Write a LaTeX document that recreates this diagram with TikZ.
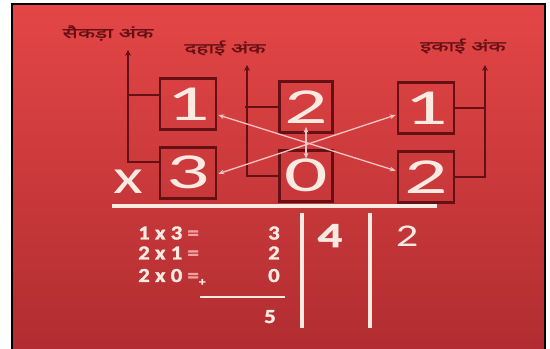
\documentclass[tikz,border=0pt]{standalone}
\usepackage{fontspec}
\newfontfamily\bigdigits[FakeStretch=1.7]{Carlito}
\newfontfamily\eqfont[FakeStretch=1.4, BoldFont={Carlito Bold}, BoldFeatures={FakeBold=1.5}]{Carlito}
\newfontfamily\workfont[FakeStretch=1.15, BoldFont={Carlito Bold}, BoldFeatures={FakeBold=1.5}]{Carlito}
\newfontfamily\hindifont[Script=Devanagari, FakeStretch=1.6, FakeBold=1.5]{Noto Sans}
\definecolor{redtop}{RGB}{228, 70, 70}
\definecolor{redbot}{RGB}{176, 44, 48}
\definecolor{maroon}{RGB}{100, 16, 20}
\definecolor{chalk}{RGB}{250, 234, 226}
\definecolor{eqpink}{RGB}{240, 160, 160}
\definecolor{linkpink}{RGB}{246, 196, 196}
\usepackage{tikz}
\usetikzlibrary{arrows.meta, positioning, calc}

\begin{document}
\begin{tikzpicture}[x=0.03cm, y=-0.03cm,
    digitbox/.style={draw=maroon, line width=2.3pt, minimum width=1.68cm, minimum height=1.53cm, inner sep=0pt, text=chalk, font=\bigdigits\fontsize{43}{43}\selectfont},
    digitlabel/.style={text=maroon, inner sep=0pt, font=\hindifont\fontsize{12}{12}\selectfont},
    bracket/.style={draw=maroon, line width=1.8pt},
    tip/.style={{Stealth[length=5pt, width=5pt]}-},
    link/.style={{Stealth[length=5pt, width=4pt]}-{Stealth[length=5pt, width=4pt]}, draw=linkpink, line width=1.1pt},
    rule/.style={draw=chalk, line width=3.4pt},
    eqtext/.style={text=chalk, inner sep=0pt, font=\workfont\bfseries\fontsize{17}{17}\selectfont},
    colnum/.style={text=chalk, inner sep=0pt, font=\eqfont\bfseries\fontsize{30}{30}\selectfont}
]
    \useasboundingbox (0,0) rectangle (550,349);
    \fill[white] (0,0) rectangle (550,349);
    \path[draw=black, line width=1.5pt, top color=redtop, bottom color=redbot] (12,4) rectangle (545,356);

    % digit boxes
    \node[digitbox] (h1) at (188,104) {1};
    \node[digitbox, below=0.45cm of h1] (h3) {3};
    \node[digitbox, minimum width=1.59cm] (t2) at (306,107) {2};
    \node[digitbox, minimum width=1.59cm, below=0.45cm of t2] (t0) {0};
    \node[digitbox] (u1) at (426,108) {1};
    \node[digitbox, below=0.45cm of u1] (u2) {2};
    \node[text=chalk, inner sep=0pt, font=\eqfont\fontsize{42}{42}\selectfont] (times) at (128,182) {x};

    % place-value brackets
    \coordinate (htip) at (128,50);
    \coordinate (ttip) at (247,65);
    \coordinate (utip) at (485,65);
    \draw[bracket, tip] (htip) |- ($(h3.west)+(0,-11)$);
    \draw[bracket] ($(h1.west)+(0,-9)$) -- ++(-32,0);
    \draw[bracket, tip] (ttip) |- (t0.west);
    \draw[bracket] (t2.west) -- ++(-33,0);
    \draw[bracket, tip] (utip) |- (u2.east);
    \draw[bracket] (u1.east) -- ++(31,0);

    \node[digitlabel] (hlbl) at (108,33) {सैकड़ा अंक};
    \node[digitlabel] (tlbl) at (225,48) {दहाई अंक};
    \node[digitlabel] (ulbl) at (463,46) {इकाई अंक};

    % cross products
    \draw[link] ($(h1.east)+(1,11)$) -- ($(u2.west)+(-1,-6)$);
    \draw[link] ($(h3.east)+(1,1)$) -- ($(u1.west)+(-1,7)$);
    \draw[link] ($(t2.south)+(0,-7)$) -- ($(t0.north)+(0,10)$);

    % working
    \draw[rule] (112,206) -- (437,206);
    \node[eqtext, anchor=base west] (e1) at (138,239.5) {1 x 3 {\color{eqpink}=}};
    \node[eqtext, anchor=base east] (r1) at (280,239.5) {3};
    \node[eqtext, anchor=base west] (e2) at (138,259.5) {2 x 1 {\color{eqpink}=}};
    \node[eqtext, anchor=base east] (r2) at (280,259.5) {2};
    \node[eqtext, anchor=base west] (e3) at (138,282) {2 x 0 {\color{eqpink}=}\raisebox{-3pt}{\fontsize{10}{10}\selectfont +}};
    \node[eqtext, anchor=base east] (r3) at (280,282) {0};
    \draw[rule, line width=2.4pt] (200,297) -- (285,297);
    \node[eqtext, anchor=base east] (sum) at (276,323) {5};
    \draw[rule] (302,213) -- (302,328);
    \draw[rule] (370,213) -- (370,328);
    \node[colnum, anchor=base] (tens) at (330,247) {4};
    \node[colnum, anchor=base, font=\eqfont\fontsize{27}{27}\selectfont] (hund) at (407,247) {2};
\end{tikzpicture}
\end{document}
